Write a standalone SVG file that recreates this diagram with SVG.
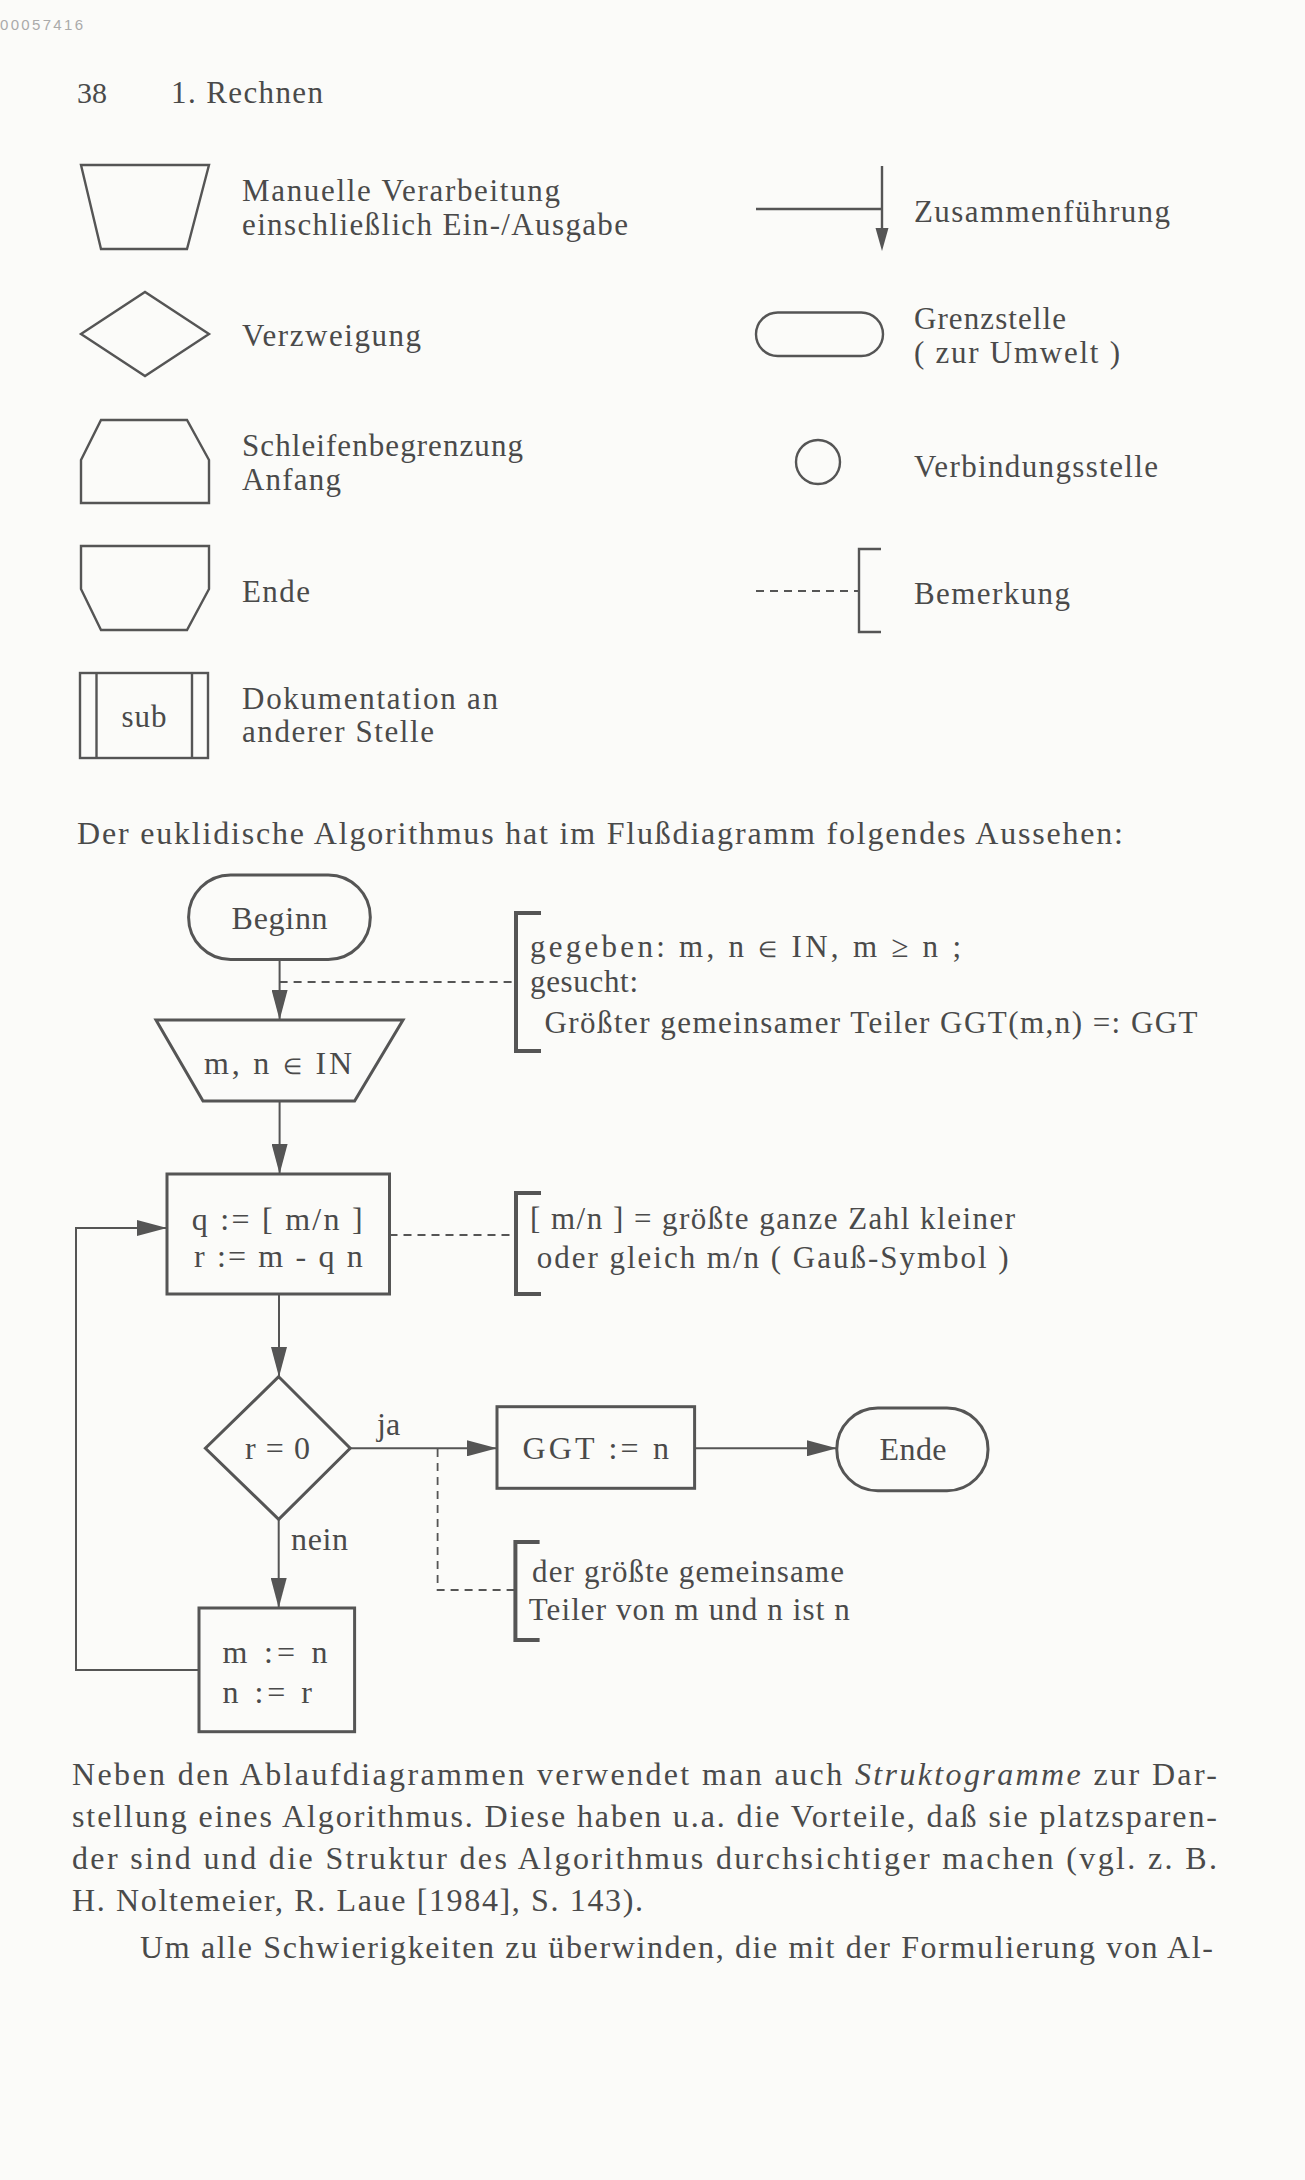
<svg xmlns="http://www.w3.org/2000/svg" width="1305" height="2180" viewBox="0 0 1305 2180">
<style>
.bg{fill:#fbfbf9}
.t{font-family:"Liberation Serif","Times New Roman",serif;fill:#4a4a4a}
.lg{font-size:31px}
.fc{font-size:32px}
.an{font-size:31px}
.bd{font-size:32px}
.el{font-size:22px}
.sh{fill:none;stroke:#555;stroke-width:2.4;stroke-linejoin:miter}
.nd{fill:none;stroke:#555;stroke-width:3}
.ln{fill:none;stroke:#555;stroke-width:2}
.ds{fill:none;stroke:#555;stroke-width:1.8;stroke-dasharray:8 6}
.br{fill:none;stroke:#555;stroke-width:4}
.brs{fill:none;stroke:#555;stroke-width:2.4}
</style>
<defs>
<marker id="ah" viewBox="0 0 30 16" refX="30" refY="8" markerWidth="30" markerHeight="16" markerUnits="userSpaceOnUse" orient="auto">
<path d="M0,0 L30,8 L0,16 z" fill="#555"/>
</marker>
</defs>
<rect class="bg" x="0" y="0" width="1305" height="2180"/>

<g id="header">
<text x="0" y="30" font-family="'Liberation Sans',Arial,sans-serif" font-size="15" fill="#aaa" textLength="83">00057416</text>
<text class="t" x="77" y="103" font-size="30">38</text>
<text class="t" x="171" y="103" font-size="31" textLength="152">1. Rechnen</text>
</g>

<g id="legend-manuell">
<polygon class="sh" points="81,165 209,165 187,249 101,249"/>
<text class="t lg" x="242" y="201" textLength="318">Manuelle Verarbeitung</text>
<text class="t lg" x="242" y="235" textLength="386">einschließlich Ein-/Ausgabe</text>
</g>
<g id="legend-verzweigung">
<polygon class="sh" points="81,334 145,292 209,334 145,376"/>
<text class="t lg" x="242" y="346" textLength="179">Verzweigung</text>
</g>
<g id="legend-schleife-anfang">
<polygon class="sh" points="101,420 187,420 209,460 209,503 81,503 81,460"/>
<text class="t lg" x="242" y="456" textLength="281">Schleifenbegrenzung</text>
<text class="t lg" x="242" y="490" textLength="99">Anfang</text>
</g>
<g id="legend-schleife-ende">
<polygon class="sh" points="81,546 209,546 209,589 187,630 101,630 81,589"/>
<text class="t lg" x="242" y="602" textLength="68">Ende</text>
</g>
<g id="legend-sub">
<rect class="sh" x="80" y="673" width="128" height="85"/>
<line class="sh" x1="96.5" y1="673" x2="96.5" y2="758"/>
<line class="sh" x1="192" y1="673" x2="192" y2="758"/>
<text class="t lg" x="144" y="727" text-anchor="middle" textLength="45">sub</text>
<text class="t lg" x="242" y="709" textLength="256">Dokumentation an</text>
<text class="t lg" x="242" y="742" textLength="192">anderer Stelle</text>
</g>
<g id="legend-zusammenfuehrung">
<line class="sh" x1="756" y1="209" x2="882" y2="209"/>
<line class="sh" x1="882" y1="166" x2="882" y2="230"/>
<polygon points="882,251 875.5,228 888.5,228" fill="#555"/>
<text class="t lg" x="914" y="222" textLength="256">Zusammenführung</text>
</g>
<g id="legend-grenzstelle">
<rect class="sh" x="756" y="312.5" width="127" height="43.5" rx="21.75"/>
<text class="t lg" x="914" y="329" textLength="152">Grenzstelle</text>
<text class="t lg" x="914" y="363" textLength="206">( zur Umwelt )</text>
</g>
<g id="legend-verbindung">
<circle class="sh" cx="818" cy="462" r="22"/>
<text class="t lg" x="914" y="477" textLength="244">Verbindungsstelle</text>
</g>
<g id="legend-bemerkung">
<line class="ds" x1="756" y1="591" x2="859" y2="591"/>
<path class="brs" d="M881,549 H859 V632 H881"/>
<text class="t lg" x="914" y="604" textLength="156">Bemerkung</text>
</g>

<text class="t bd" x="77" y="844" textLength="1046">Der euklidische Algorithmus hat im Flußdiagramm folgendes Aussehen:</text>

<g id="connectors">
<line class="ln" x1="279.6" y1="959" x2="279.6" y2="1020" marker-end="url(#ah)"/>
<line class="ln" x1="279.6" y1="1101" x2="279.6" y2="1174" marker-end="url(#ah)"/>
<line class="ln" x1="279" y1="1294" x2="279" y2="1377" marker-end="url(#ah)"/>
<line class="ln" x1="350.2" y1="1448.3" x2="497" y2="1448.3" marker-end="url(#ah)"/>
<line class="ln" x1="694.6" y1="1448.3" x2="836.8" y2="1448.3" marker-end="url(#ah)"/>
<line class="ln" x1="278.7" y1="1519.3" x2="278.7" y2="1608" marker-end="url(#ah)"/>
<path class="ln" d="M199,1670 H76 V1228 H167" marker-end="url(#ah)"/>
<line class="ds" x1="279.6" y1="982" x2="516" y2="982"/>
<line class="ds" x1="389.5" y1="1235" x2="516" y2="1235"/>
<path class="ds" d="M437.6,1449 V1590 H515"/>
<text class="t fc" x="377" y="1435">ja</text>
<text class="t fc" x="291" y="1550" textLength="57">nein</text>
</g>

<g id="node-beginn">
<rect class="nd" x="188.6" y="875" width="181.7" height="84.4" rx="42"/>
<text class="t fc" x="279.6" y="928.7" text-anchor="middle" textLength="96">Beginn</text>
</g>
<g id="node-eingabe">
<polygon class="nd" points="156,1020 403,1020 354.6,1101 203,1101"/>
<text class="t fc" x="204" y="1073.8" textLength="148">m, n <tspan class="el">∈</tspan> IN</text>
</g>
<g id="note-gegeben">
<path class="br" d="M541,913 H516 V1051 H541"/>
<text class="t an" x="530" y="957" textLength="431">gegeben: m, n <tspan class="el">∈</tspan> IN, m ≥ n ;</text>
<text class="t an" x="530" y="992" textLength="108">gesucht:</text>
<text class="t an" x="544.5" y="1033" textLength="653">Größter gemeinsamer Teiler GGT(m,n) =: GGT</text>
</g>
<g id="node-division">
<rect class="nd" x="167" y="1174" width="222.5" height="120"/>
<text class="t fc" x="191.7" y="1229.6" textLength="171">q := [ m/n ]</text>
<text class="t fc" x="194" y="1266.7" textLength="168.7">r := m - q n</text>
</g>
<g id="note-gauss">
<path class="br" d="M541,1193 H516 V1294 H541"/>
<text class="t an" x="530" y="1228.6" textLength="485">[ m/n ] = größte ganze Zahl kleiner</text>
<text class="t an" x="536.7" y="1267.8" textLength="472">oder gleich m/n ( Gauß-Symbol )</text>
</g>
<g id="node-test">
<polygon class="nd" points="278.7,1376.7 350.2,1448.3 278.7,1519.3 205.4,1448.3"/>
<text class="t fc" x="245" y="1459.3" textLength="65">r = 0</text>
</g>
<g id="node-ggt">
<rect class="nd" x="497" y="1406.7" width="197.6" height="81.6"/>
<text class="t fc" x="522.4" y="1459.3" textLength="146.6">GGT := n</text>
</g>
<g id="node-ende">
<rect class="nd" x="836.8" y="1408" width="151.2" height="82.7" rx="41"/>
<text class="t fc" x="879.5" y="1460" textLength="67">Ende</text>
</g>
<g id="note-ergebnis">
<path class="br" d="M539.6,1542 H515.4 V1640 H539.6"/>
<text class="t an" x="532" y="1582" textLength="312">der größte gemeinsame</text>
<text class="t an" x="528.7" y="1620" textLength="321">Teiler von m und n ist n</text>
</g>
<g id="node-tausch">
<rect class="nd" x="199" y="1608" width="155.6" height="123.7"/>
<text class="t fc" x="222.6" y="1663.3" textLength="105">m := n</text>
<text class="t fc" x="222.6" y="1703.3" textLength="89.4">n := r</text>
</g>

<g id="body-text">
<text class="t bd" x="72" y="1785" textLength="1145">Neben den Ablaufdiagrammen verwendet man auch <tspan font-style="italic">Struktogramme</tspan> zur Dar-</text>
<text class="t bd" x="72" y="1827" textLength="1145">stellung eines Algorithmus. Diese haben u.a. die Vorteile, daß sie platzsparen-</text>
<text class="t bd" x="72" y="1869" textLength="1145">der sind und die Struktur des Algorithmus durchsichtiger machen (vgl. z. B.</text>
<text class="t bd" x="72" y="1911" textLength="571">H. Noltemeier, R. Laue [1984], S. 143).</text>
<text class="t bd" x="140" y="1958" textLength="1073">Um alle Schwierigkeiten zu überwinden, die mit der Formulierung von Al-</text>
</g>
</svg>
